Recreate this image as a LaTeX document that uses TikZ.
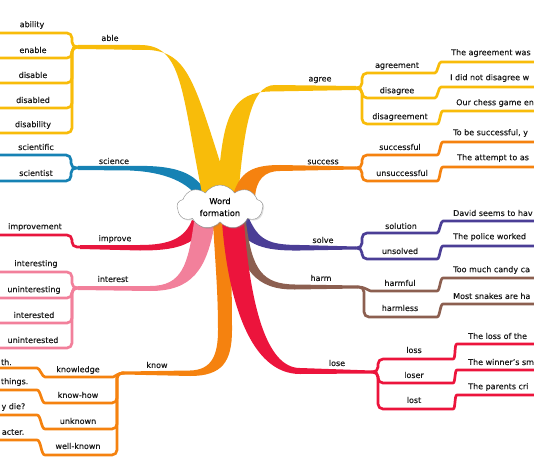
\documentclass[tikz,border=0pt]{standalone}
\usepackage{fontspec}
\setmainfont{DejaVu Sans}[FakeBold=0.25]
\usetikzlibrary{shapes.symbols,shadows}
\definecolor{cgold}{RGB}{248,188,10}
\definecolor{cblue}{RGB}{22,130,180}
\definecolor{cred}{RGB}{232,22,62}
\definecolor{clred}{RGB}{236,20,60}
\definecolor{cpink}{RGB}{242,128,155}
\definecolor{corange}{RGB}{245,130,15}
\definecolor{cindigo}{RGB}{75,62,150}
\definecolor{cbrown}{RGB}{140,95,80}
\begin{document}
\begin{tikzpicture}[x=1pt,y=-1pt,
  lbl/.style={font=\fontsize{8}{9}\selectfont, text=black!90, inner sep=0pt},
  sent/.style={lbl, anchor=west},
  sentl/.style={lbl, anchor=east},
  twig/.style={line width=2.7pt, line cap=round, line join=round, rounded corners=5pt},
]
\useasboundingbox (0,0) rectangle (534,462);
\clip (0,0) rectangle (534,462);

% branch points
\coordinate (able) at (78,47);
\coordinate (sci) at (78,168);
\coordinate (imp) at (80,247);
\coordinate (int) at (78,288);
\coordinate (kn) at (124,373);
\coordinate (agr) at (356,88);
\coordinate (suc) at (356,168);
\coordinate (sol) at (356,248);
\coordinate (hrm) at (358,287);
\coordinate (los) at (372,372);

% ---------- trunks ----------
\fill[cblue] (78,166) -- (130,166) .. controls (170,165) and (192,170) .. (205,190)
  -- (200,200) .. controls (188,182) and (165,172) .. (130,170.5) -- (78,170) -- cycle;
\fill[cgold] (78,45) -- (140,45) .. controls (183,45) and (181,90) .. (203,198)
  -- (238,198) .. controls (244,130) and (250,85) .. (275,85) -- (356,86) -- (356,90)
  -- (270,91.5) .. controls (234,92) and (225,115) .. (220,162)
  .. controls (194,80) and (186,53) .. (150,50) -- (78,49) -- cycle;
\fill[corange] (233,195) .. controls (240,172) and (252,165) .. (280,165) -- (356,166.5)
  -- (356,169.5) -- (280,171) .. controls (264,171) and (256,180) .. (255,198) -- cycle;
\fill[cred] (80,245) -- (140,245) .. controls (170,245) and (185,238) .. (192,220)
  -- (207,226) .. controls (192,246) and (175,250.5) .. (140,250.5) -- (80,249) -- cycle;
\fill[cpink] (78,286) -- (150,286) .. controls (182,286) and (188,265) .. (194,222)
  -- (215,222) .. controls (207,270) and (192,291) .. (150,291) -- (78,290) -- cycle;
\fill[cindigo] (248,216) .. controls (258,240) and (268,245) .. (300,245) -- (356,246.5)
  -- (356,249.5) -- (300,250.5) .. controls (262,251) and (248,245) .. (234,225) -- cycle;
\fill[cbrown] (246,222) .. controls (252,270) and (262,284) .. (295,284.5) -- (358,285.5)
  -- (358,288.5) -- (295,289.5) .. controls (256,290) and (240,270) .. (234,222) -- cycle;
\fill[corange] (213,222) .. controls (215,260) and (218,290) .. (218,330)
  .. controls (218,355) and (212,370) .. (190,370.5) -- (124,371.5) -- (124,374.5)
  -- (190,376) .. controls (222,376) and (232,362) .. (232,330)
  .. controls (232,290) and (231,260) .. (229,222) -- cycle;
\fill[clred] (222,222) .. controls (228,300) and (250,374) .. (300,374) -- (372,373.5)
  -- (372,370.5) -- (300,368) .. controls (265,368) and (250,300) .. (244,222) -- cycle;

% ---------- left twigs ----------
\draw[twig,cgold] (able) -- (72,47) -- (72,33) -- (-5,33);
\draw[twig,cgold] (able) -- (72,47) -- (72,58) -- (-5,58);
\draw[twig,cgold] (able) -- (72,47) -- (72,83) -- (-5,83);
\draw[twig,cgold] (able) -- (72,47) -- (72,108) -- (-5,108);
\draw[twig,cgold] (able) -- (72,47) -- (72,133) -- (-5,133);
\draw[twig,cblue] (sci) -- (71,168) -- (71,155) -- (-5,155);
\draw[twig,cblue] (sci) -- (71,168) -- (71,181) -- (-5,181);
\draw[twig,cred] (imp) -- (72,247) -- (72,235) -- (-5,235);
\draw[twig,cpink] (int) -- (72,288) -- (72,272) -- (-5,272);
\draw[twig,cpink] (int) -- (72,288) -- (72,298) -- (-5,298);
\draw[twig,cpink] (int) -- (72,288) -- (72,323) -- (-5,323);
\draw[twig,cpink] (int) -- (72,288) -- (72,348) -- (-5,348);
\draw[twig,corange] (kn) to[out=180,in=0] (108,377) -- (50,377) to[out=180,in=0] (32,368) -- (-5,368);
\draw[twig,corange] (kn) -- (117,373) -- (117,403) -- (50,403) to[out=180,in=0] (32,390) -- (-5,390);
\draw[twig,corange] (kn) -- (117,373) -- (117,429) -- (50,429) to[out=180,in=0] (32,415) -- (-5,415);
\draw[twig,corange] (kn) -- (117,373) -- (117,455) -- (50,455) to[out=180,in=0] (32,440) -- (-5,440);

% ---------- right twigs ----------
\draw[twig,cgold] (agr) -- (362,88) -- (362,73) -- (430,73) to[out=0,in=180] (446,62) -- (540,62);
\draw[twig,cgold] (agr) -- (362,88) -- (362,98) -- (430,98) to[out=0,in=180] (446,87) -- (540,87);
\draw[twig,cgold] (agr) -- (362,88) -- (362,124) -- (432,124) to[out=0,in=180] (448,111) -- (540,111);
\draw[twig,corange] (suc) -- (362,168) -- (362,155) -- (432,155) to[out=0,in=180] (448,142) -- (540,142);
\draw[twig,corange] (suc) -- (362,168) -- (362,181) -- (432,181) to[out=0,in=180] (448,167) -- (540,167);
\draw[twig,cindigo] (sol) -- (362,248) -- (362,233) -- (432,233) to[out=0,in=180] (448,221) -- (540,221);
\draw[twig,cindigo] (sol) -- (362,248) -- (362,259) -- (432,259) to[out=0,in=180] (448,246) -- (540,246);
\draw[twig,cbrown] (hrm) to[out=0,in=180] (376,291) -- (432,291) to[out=0,in=180] (448,278) -- (540,278);
\draw[twig,cbrown] (hrm) -- (364,287) -- (364,317) -- (432,317) to[out=0,in=180] (448,304) -- (540,304);
\draw[twig,clred] (los) -- (378,372) -- (378,359) -- (448,359) to[out=0,in=180] (462,344) -- (540,344);
\draw[twig,clred] (los) -- (378,372) -- (378,383) -- (448,383) to[out=0,in=180] (462,370) -- (540,370);
\draw[twig,clred] (los) -- (378,372) -- (378,409) -- (448,409) to[out=0,in=180] (462,395) -- (540,395);

% ---------- centre ----------
\node[cloud, cloud puffs=9, cloud puff arc=115, aspect=2.0, draw=black!45, fill=white,
  minimum width=86pt, minimum height=44pt, inner sep=0pt, align=center,
  drop shadow={shadow xshift=1.2pt, shadow yshift=-1.2pt, opacity=0.25},
  font=\fontsize{8.3}{12}\selectfont] (wf) at (220,207) {Word\\formation};

% ---------- labels ----------
\node[lbl] (l-able) at (110,38) {able};
\node[lbl] (l-ability) at (32,25) {ability};
\node[lbl] (l-enable) at (33,50) {enable};
\node[lbl] (l-disable) at (33,75) {disable};
\node[lbl] (l-disabled) at (33,100) {disabled};
\node[lbl] (l-disability) at (33,125) {disability};
\node[lbl] (l-science) at (114,161) {science};
\node[lbl] (l-scientific) at (36,147) {scientific};
\node[lbl] (l-scientist) at (36,173) {scientist};
\node[lbl] (l-improve) at (115,239) {improve};
\node[lbl] (l-improvement) at (35,227) {improvement};
\node[lbl] (l-interest) at (113,279) {interest};
\node[lbl] (l-interesting) at (36,264) {interesting};
\node[lbl] (l-uninteresting) at (34,290) {uninteresting};
\node[lbl] (l-interested) at (34,315) {interested};
\node[lbl] (l-uninterested) at (33,340) {uninterested};
\node[lbl] (l-know) at (157,365) {know};
\node[lbl] (l-knowledge) at (78,370) {knowledge};
\node[lbl] (l-knowhow) at (78,395) {know-how};
\node[lbl] (l-unknown) at (78,421) {unknown};
\node[lbl] (l-wellknown) at (78,446) {well-known};
\node[sentl] (s-k1) at (12,362) {th.};
\node[sentl] (s-k2) at (28.5,382) {things.};
\node[sentl] (s-k3) at (25.5,407) {y die?};
\node[sentl] (s-k4) at (24.5,432) {acter.};

\node[lbl] (l-agree) at (320,80) {agree};
\node[lbl] (l-agreement) at (397,66) {agreement};
\node[lbl] (l-disagree) at (397,91) {disagree};
\node[lbl] (l-disagreement) at (400,117) {disagreement};
\node[sent] (s-a1) at (451,53) {The agreement was};
\node[sent] (s-a2) at (450,78) {I did not disagree w};
\node[sent] (s-a3) at (456,103) {Our chess game en};
\node[lbl] (l-success) at (323,162) {success};
\node[lbl] (l-successful) at (400,147) {successful};
\node[lbl] (l-unsuccessful) at (402,173) {unsuccessful};
\node[sent] (s-s1) at (453,133) {To be successful, y};
\node[sent] (s-s2) at (457,158) {The attempt to as};
\node[lbl] (l-solve) at (323,240) {solve};
\node[lbl] (l-solution) at (401,226) {solution};
\node[lbl] (l-unsolved) at (400,251) {unsolved};
\node[sent] (s-v1) at (453,213) {David seems to hav};
\node[sent] (s-v2) at (453,237) {The police worked};
\node[lbl] (l-harm) at (321,278) {harm};
\node[lbl] (l-harmful) at (400,283) {harmful};
\node[lbl] (l-harmless) at (400,308) {harmless};
\node[sent] (s-h1) at (453,270) {Too much candy ca};
\node[sent] (s-h2) at (453,296) {Most snakes are ha};
\node[lbl] (l-lose) at (337,363) {lose};
\node[lbl] (l-loss) at (414,350) {loss};
\node[lbl] (l-loser) at (414,375) {loser};
\node[lbl] (l-lost) at (414,400) {lost};
\node[sent] (s-l1) at (468,336) {The loss of the};
\node[sent] (s-l2) at (468,362) {The winner's sm};
\node[sent] (s-l3) at (468,387) {The parents cri};
\end{tikzpicture}
\end{document}
